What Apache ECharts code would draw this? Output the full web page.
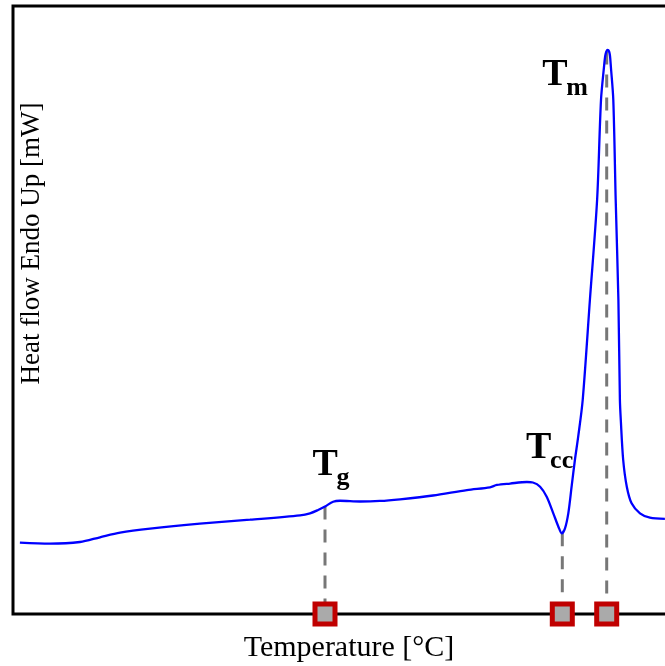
<!DOCTYPE html>
<html><head><meta charset="utf-8">
<script src="https://cdn.jsdelivr.net/npm/echarts@6/dist/echarts.min.js"></script>
<style>html,body{margin:0;padding:0;background:#fff}#c{width:665px;height:666px}</style>
</head><body><div id="c"></div>
<script>
// DSC curve (arbitrary temperature units, heat flow in % of axis range)
const temperature = [2.3, 12.3, 22.3, 29.0, 35.7, 45.7, 62.3, 79.0, 95.7, 99.0, 101.7, 104.0, 106.7, 109.0, 115.7, 122.3, 129.0, 140.0, 151.3, 159.0, 161.3, 165.7, 171.3, 173.3, 175.7, 177.9, 180.1, 181.8, 182.9, 184.0, 185.1, 186.2, 187.3, 188.4, 189.9, 192.3, 194.7, 196.0, 197.0, 197.4, 197.8, 198.2, 198.7, 199.0, 199.3, 200.1, 200.9, 201.8, 202.3, 202.6, 203.4, 204.6, 206.2, 209.0, 212.3, 217.3];
const heatFlow = [11.73, 11.56, 11.84, 12.62, 13.37, 14.03, 14.85, 15.51, 16.23, 16.56, 17.11, 17.68, 18.47, 18.63, 18.50, 18.59, 18.87, 19.49, 20.39, 20.84, 21.22, 21.46, 21.71, 21.63, 20.94, 19.29, 16.56, 14.36, 13.27, 14.10, 16.56, 20.94, 25.33, 29.16, 35.20, 51.64, 68.09, 84.54, 89.97, 91.78, 92.52, 92.76, 92.52, 91.78, 89.97, 84.54, 68.09, 51.64, 35.20, 31.91, 25.33, 20.94, 18.21, 16.56, 15.84, 15.63];

// Characteristic temperatures: glass transition, cold crystallisation, melting
const markerNames = ['g', 'cc', 'm'];
const markerTemps = [104.0, 183.1, 197.9];
const markerHeat = [17.7, 13.3, 92.5];
// Annotation anchors (data coordinates)
const labelTemps = [100.0, 171.2, 176.6];
const labelHeat = [21.3, 24.0, 85.4];

const chart = echarts.init(document.getElementById('c'), null, { renderer: 'canvas' });
const curve = temperature.map((t, i) => [t, heatFlow[i]]);
const serif = 'Liberation Serif';

const series = [{
  type: 'line', data: curve, showSymbol: false, smooth: 0.3,
  lineStyle: { color: '#0000ff', width: 2.3 }, z: 4, silent: true
}];
markerTemps.forEach((t, i) => {
  series.push({
    type: 'line', data: [[t, markerHeat[i]], [t, 0]], showSymbol: false,
    lineStyle: { color: '#777777', width: 3, type: [13, 10] }, z: 3, silent: true
  });
});
series.push({
  type: 'scatter', data: markerTemps.map(t => [t, 0]), symbol: 'rect', symbolSize: 20,
  itemStyle: { color: '#aaaaaa', borderColor: '#c00000', borderWidth: 5, opacity: 1 },
  clip: false, z: 10, silent: true
});
// "T" letters
series.push({
  type: 'scatter',
  data: labelTemps.map((t, i) => ({ value: [t, labelHeat[i]], name: 'T' })),
  symbolSize: 1, itemStyle: { color: 'transparent', opacity: 1 }, z: 6, silent: true,
  label: {
    show: true, position: [0, 0], align: 'left', verticalAlign: 'bottom',
    formatter: '{b}', color: '#000000', fontWeight: 'bold', fontFamily: serif, fontSize: 38
  }
});
// subscripts
series.push({
  type: 'scatter',
  data: labelTemps.map((t, i) => ({ value: [t, labelHeat[i]], name: markerNames[i] })),
  symbolSize: 1, itemStyle: { color: 'transparent', opacity: 1 }, z: 6, silent: true,
  label: {
    show: true, position: [0, 0], align: 'left', verticalAlign: 'bottom', offset: [24, 7],
    formatter: '{b}', color: '#000000', fontWeight: 'bold', fontFamily: serif, fontSize: 26
  }
});

chart.setOption({
  animation: false,
  backgroundColor: '#ffffff',
  grid: { left: 13, right: -20, top: 6, bottom: 52, show: true, borderColor: '#000', borderWidth: 3, containLabel: false, outerBoundsMode: 'none' },
  xAxis: {
    type: 'value', min: 0, max: 224,
    axisLine: { show: false }, axisTick: { show: false }, axisLabel: { show: false }, splitLine: { show: false },
    name: 'Temperature [°C]', nameLocation: 'middle', nameGap: 19,
    nameTextStyle: { fontFamily: serif, fontSize: 30, color: '#000' }
  },
  yAxis: {
    type: 'value', min: 0, max: 100,
    axisLine: { show: false }, axisTick: { show: false }, axisLabel: { show: false }, splitLine: { show: false },
    name: 'Heat flow Endo Up [mW]', nameLocation: 'middle', nameGap: -32, nameRotate: 90,
    nameTextStyle: { fontFamily: serif, fontSize: 27, color: '#000', padding: [0, 0, 0, 133] }
  },
  series: series
});
</script>
</body></html>
